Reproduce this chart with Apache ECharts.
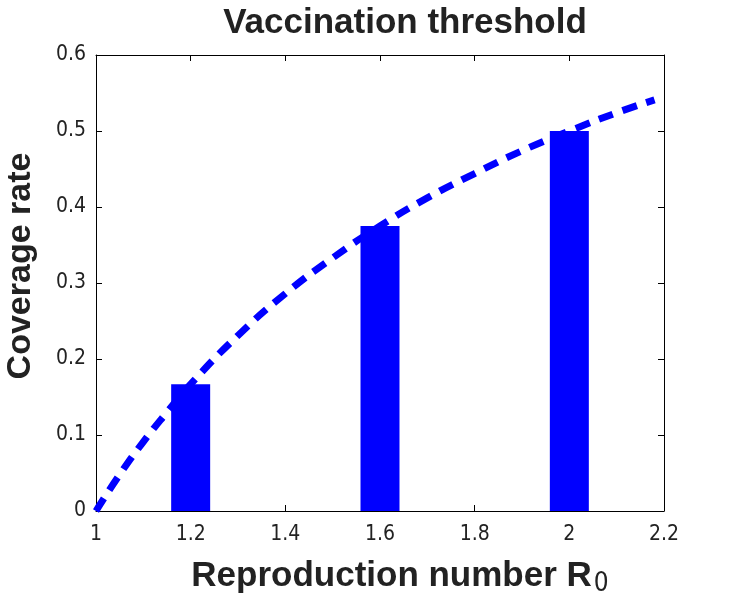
<!DOCTYPE html>
<html><head><meta charset="utf-8">
<script src="https://cdn.jsdelivr.net/npm/echarts@6/dist/echarts.min.js"></script>
<style>html,body{margin:0;padding:0;background:#fff}#c{width:735px;height:601px}</style>
</head><body><div id="c"></div>
<script>
const barR = [1.2, 1.6, 2.0];
const barCoverage = [0.1667, 0.375, 0.5];
const curveR = [1.0, 1.05, 1.1, 1.15, 1.2, 1.3, 1.4, 1.5, 1.6, 1.7, 1.8, 1.9, 2.0, 2.1, 2.18];
const curveCoverage = [0, 0.048, 0.091, 0.13, 0.167, 0.231, 0.286, 0.333, 0.375, 0.412, 0.444, 0.474, 0.5, 0.524, 0.541];
const xTicks = [1, 1.2, 1.4, 1.6, 1.8, 2, 2.2];
const yTicks = [0, 0.1, 0.2, 0.3, 0.4, 0.5, 0.6];

const BOLD = "'Liberation Sans', Arial, sans-serif";
const TICK = "'DejaVu Sans Condensed', Lato, 'Open Sans', sans-serif";
const chart = echarts.init(document.getElementById('c'));
const axisCommon = {
  type: 'value',
  axisLine: {show: true, onZero: false, lineStyle: {color: '#000', width: 1}},
  axisTick: {show: true, inside: true, length: 6, lineStyle: {color: '#000'}},
  splitLine: {show: false}
};
chart.setOption({
  animation: false,
  title: {
    text: 'Vaccination threshold', left: 400, top: 1, textAlign: 'center',
    textStyle: {fontFamily: BOLD, fontWeight: 'bold', fontSize: 35, color: '#222'}
  },
  grid: {left: 96, top: 55, right: 71, bottom: 90, outerBoundsMode: 'none', containLabel: false},
  xAxis: [
    Object.assign({}, axisCommon, {
      min: 1, max: 2.2, interval: 0.2, position: 'bottom',
      axisLabel: {fontFamily: TICK, fontSize: 21, color: '#222', margin: 13,
        formatter: v => { const t = xTicks.find(x => Math.abs(x - v) < 1e-6); return t === undefined ? '' : String(t); }},
      name: '{a|Reproduction number R}{s|0}', nameLocation: 'middle', nameGap: 44,
      nameTextStyle: {padding: [0, 0, 0, 40], rich: {
        a: {fontFamily: BOLD, fontWeight: 'bold', fontSize: 35, color: '#222'},
        s: {fontFamily: TICK, fontSize: 26, color: '#222', padding: [16, 0, 0, 2]}
      }}
    }),
    Object.assign({}, axisCommon, {
      min: 1, max: 2.2, interval: 0.2, position: 'top', axisLabel: {show: false}
    })
  ],
  yAxis: [
    Object.assign({}, axisCommon, {
      min: 0, max: 0.6, interval: 0.1, position: 'left',
      axisLabel: {fontFamily: TICK, fontSize: 21, color: '#222', margin: 10,
        formatter: v => { const t = yTicks.find(x => Math.abs(x - v) < 1e-6); return t === undefined ? '' : String(t); }},
      name: 'Coverage rate', nameLocation: 'middle', nameGap: 58, nameRotate: 90,
      nameTextStyle: {fontFamily: BOLD, fontWeight: 'bold', fontSize: 34, color: '#222', padding: [0, 0, 0, 34]}
    }),
    Object.assign({}, axisCommon, {
      min: 0, max: 0.6, interval: 0.1, position: 'right', axisLabel: {show: false}
    })
  ],
  series: [
    {
      type: 'bar', xAxisIndex: 0, yAxisIndex: 0, barWidth: 39,
      itemStyle: {color: '#0000ff'},
      data: barR.map((r, i) => [r, barCoverage[i]])
    },
    {
      type: 'line', xAxisIndex: 0, yAxisIndex: 0, smooth: true, symbol: 'none',
      lineStyle: {color: '#0000ff', width: 7, type: [15, 10], cap: 'butt'},
      data: curveR.map((r, i) => [r, curveCoverage[i]]), z: 3
    }
  ]
});
</script></body></html>
